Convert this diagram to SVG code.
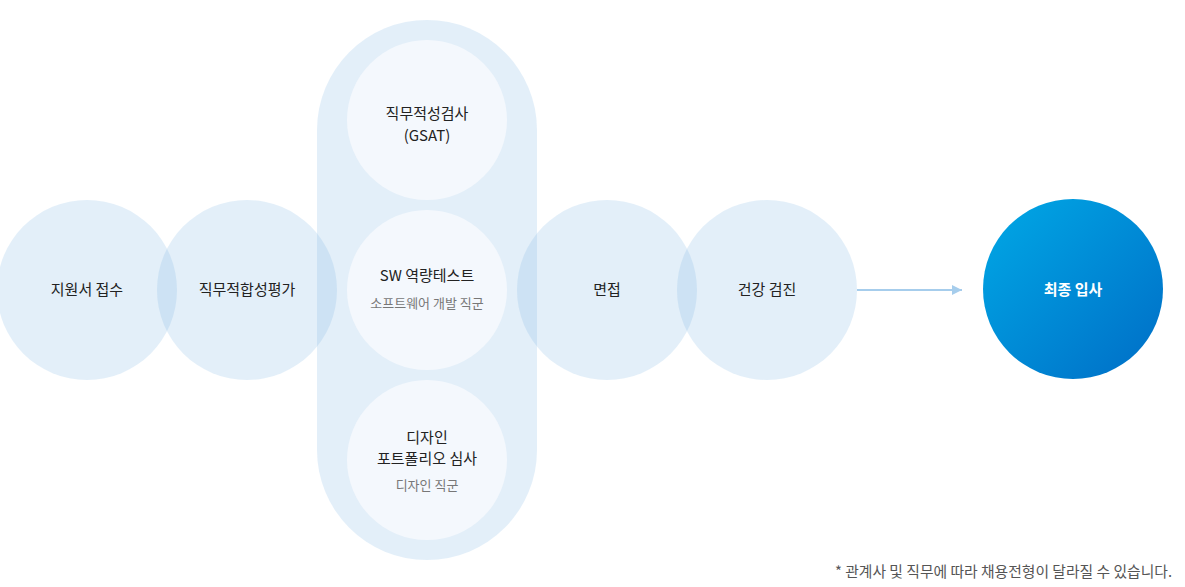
<svg xmlns="http://www.w3.org/2000/svg" width="1185" height="587" viewBox="0 0 1185 587">
<defs>
<linearGradient id="finalGrad" x1="0" y1="0" x2="1" y2="1">
<stop offset="0" stop-color="#00a9e6"/>
<stop offset="1" stop-color="#006dc6"/>
</linearGradient>
<marker id="arrow" viewBox="0 0 10 10" refX="10" refY="5" markerWidth="10" markerHeight="10" markerUnits="userSpaceOnUse" orient="auto">
<path d="M0,0 L10,5 L0,10 Z" fill="#a6cdec"/>
</marker>
<style>
.step{fill:#7cb4e3;fill-opacity:0.215}
.inner{fill:#f4f8fd}
.lbl{font-family:"Noto Sans CJK KR","Noto Sans",sans-serif;font-size:15px;fill:#222;text-anchor:middle}
.sub{font-family:"Noto Sans CJK KR","Noto Sans",sans-serif;font-size:13px;fill:#777;text-anchor:middle}
.fin{font-family:"Noto Sans CJK KR","Noto Sans",sans-serif;font-size:15px;font-weight:bold;fill:#fff;text-anchor:middle}
.note{font-family:"Noto Sans CJK KR","Noto Sans",sans-serif;font-size:14.8px;fill:#555;text-anchor:end}
</style>
</defs>
<rect width="1185" height="587" fill="#fff"/>
<g id="node-apply">
<circle class="step" cx="87" cy="290" r="90"/>
<text class="lbl" x="87" y="295">지원서 접수</text>
</g>
<g id="node-fit">
<circle class="step" cx="247" cy="290" r="90"/>
<text class="lbl" x="247" y="295">직무적합성평가</text>
</g>
<g id="node-tests">
<rect class="step" x="317" y="20" width="220" height="540" rx="110" ry="110"/>
</g>
<g id="node-gsat">
<circle class="inner" cx="427" cy="120" r="80"/>
<text class="lbl" x="427" y="119">직무적성검사</text>
<text class="lbl" x="427" y="141">(GSAT)</text>
</g>
<g id="node-sw">
<circle class="inner" cx="427" cy="290" r="80"/>
<text class="lbl" x="427" y="281">SW 역량테스트</text>
<text class="sub" x="427" y="308">소프트웨어 개발 직군</text>
</g>
<g id="node-design">
<circle class="inner" cx="427" cy="460" r="80"/>
<text class="lbl" x="427" y="443">디자인</text>
<text class="lbl" x="427" y="464">포트폴리오 심사</text>
<text class="sub" x="427" y="490">디자인 직군</text>
</g>
<g id="node-interview">
<circle class="step" cx="607" cy="290" r="90"/>
<text class="lbl" x="607" y="295">면접</text>
</g>
<g id="node-health">
<circle class="step" cx="767" cy="290" r="90"/>
<text class="lbl" x="767" y="295">건강 검진</text>
</g>
<g id="connectors">
<line x1="857" y1="290" x2="962" y2="290" stroke="#a6cdec" stroke-width="2" marker-end="url(#arrow)"/>
</g>
<g id="node-final">
<circle cx="1073" cy="289" r="90" fill="url(#finalGrad)"/>
<text class="fin" x="1073" y="295">최종 입사</text>
</g>
<text class="note" x="1172" y="577">* 관계사 및 직무에 따라 채용전형이 달라질 수 있습니다.</text>
</svg>
